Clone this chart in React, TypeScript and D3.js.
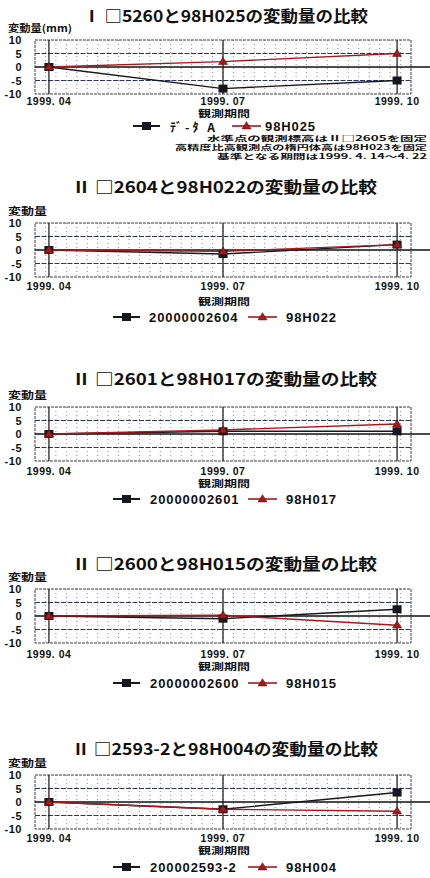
import React from "react";
import * as d3 from "d3";

// ---------- data ----------
const CATEGORIES = ["1999. 04", "1999. 07", "1999. 10"];
const Y_TICKS = [10, 5, 0, -5, -10];
const TITLES = [
  "Ⅰ □5260と98H025の変動量の比較",
  "Ⅱ □2604と98H022の変動量の比較",
  "Ⅱ □2601と98H017の変動量の比較",
  "Ⅱ □2600と98H015の変動量の比較",
  "Ⅱ □2593-2と98H004の変動量の比較",
];
const Y_LABELS = ["変動量(mm)", "変動量", "変動量", "変動量", "変動量"];
const X_LABEL = "観測期間";
const SERIES_A_NAMES = ["ﾃﾞ-ﾀ A", "20000002604", "20000002601", "20000002600", "200002593-2"];
const SERIES_B_NAMES = ["98H025", "98H022", "98H017", "98H015", "98H004"];
const SERIES_A_VALUES = [
  [0, -8, -5],
  [0, -1.5, 2],
  [0, 1, 1],
  [0, -1, 2.5],
  [0, -2.7, 3.5],
];
const SERIES_B_VALUES = [
  [0, 2, 5],
  [0, -0.5, 2],
  [0, 1.5, 3.7],
  [0, 0.3, -3.4],
  [0, -2.7, -3.4],
];
const NOTE_LINES = [
  "水準点の観測標高はⅡ□2605を固定",
  "高精度比高観測点の楕円体高は98H023を固定",
  "基準となる期間は1999. 4. 14～4. 22",
];

// ---------- layout ----------
const W = 430;
const H = 878;
const PANEL_TOP = [40, 223, 407, 589, 775];
const TITLE_Y = [15, 186, 378, 563, 748];
const TITLE_X = [[83, 368], [72, 377], [72, 377], [72, 377], [72, 378]];
const LEGEND_Y_OFF = [86, 94, 92, 94, 92];
const XLAB_Y_OFF = [61, 63, 64, 65, 63];
const XTITLE_Y_OFF = [72.5, 78, 76, 77, 75];
const LEGEND_POS = [
  [133, 170, 232, 265],
  [113, 149, 248, 286],
  [113, 150, 248, 286],
  [113, 150, 248, 286],
  [113, 150, 248, 286],
];
const PLOT_H = 54;
const BOX_L = 35;
const BOX_R = 411;
const NOTE_Y = [138, 147, 156];
const NOTE_X = [[207, 427], [175, 427], [217, 427]];

const BLACK = "#17171f";
const RED = "#a3191c";
const SANS = "'Liberation Sans', Arial, sans-serif";
const CJK = "'Noto Sans CJK JP', 'Noto Sans', sans-serif";

function Square({ x, y, s = 9 }: { x: number; y: number; s?: number }) {
  return <rect x={x - s / 2} y={y - (s - 1) / 2} width={s} height={s - 1} fill={BLACK} />;
}
function Tri({ x, y, s = 9 }: { x: number; y: number; s?: number }) {
  const h = s * 0.8;
  return (
    <path
      d={`M${x},${y - h * 0.6} L${x + s / 2},${y + h * 0.4} L${x - s / 2},${y + h * 0.4} Z`}
      fill={RED}
      stroke="#6a0f10"
      strokeWidth={0.6}
    />
  );
}

function Panel({ i }: { i: number }) {
  const top = PANEL_TOP[i];
  const x = d3.scalePoint<string>().domain(CATEGORIES).range([BOX_L, BOX_R]).padding(0.08);
  const y = d3.scaleLinear().domain([-10, 10]).range([top + PLOT_H, top]);
  const line = d3
    .line<number>()
    .x((_, k) => x(CATEGORIES[k]) as number)
    .y((v) => y(v));
  const minor = d3.range(1, 36).map((k) => BOX_L + (k * (BOX_R - BOX_L)) / 36);
  const a = SERIES_A_VALUES[i];
  const b = SERIES_B_VALUES[i];
  const lp = LEGEND_POS[i];
  const ly = top + LEGEND_Y_OFF[i];
  return (
    <g>
      <text
        x={TITLE_X[i][0]}
        y={TITLE_Y[i]}
        textLength={TITLE_X[i][1] - TITLE_X[i][0]}
        lengthAdjust="spacingAndGlyphs"
        dominantBaseline="central"
        fontFamily={CJK}
        fontWeight={700}
        fontSize={16}
        fill="#111"
      >
        {TITLES[i]}
      </text>
      <text
        x={8}
        y={top - 13}
        dominantBaseline="central"
        fontFamily={CJK}
        fontWeight={700}
        fontSize={10}
        textLength={i === 0 ? 64 : 39}
        lengthAdjust="spacingAndGlyphs"
        fill="#111"
      >
        {Y_LABELS[i]}
      </text>
      {minor.map((mx, k) => (
        <line
          key={k}
          x1={mx}
          x2={mx}
          y1={top}
          y2={top + PLOT_H}
          stroke="#777"
          strokeWidth={0.8}
          strokeDasharray="1,3"
        />
      ))}
      <rect
        x={BOX_L}
        y={top}
        width={BOX_R - BOX_L}
        height={PLOT_H}
        fill="none"
        stroke="#3a3a4a"
        strokeWidth={1}
        strokeDasharray="3,1"
      />
      {[5, -5].map((v) => (
        <line
          key={v}
          x1={BOX_L}
          x2={BOX_R}
          y1={y(v)}
          y2={y(v)}
          stroke="#2b3566"
          strokeWidth={1}
          strokeDasharray="5,1.5"
        />
      ))}
      {CATEGORIES.map((c) => (
        <line
          key={c}
          x1={x(c)}
          x2={x(c)}
          y1={top}
          y2={top + PLOT_H}
          stroke="#111"
          strokeWidth={1.2}
        />
      ))}
      <line x1={BOX_L} x2={W} y1={y(0)} y2={y(0)} stroke="#111" strokeWidth={1.6} />
      {Y_TICKS.map((t) => (
        <text
          key={t}
          x={22}
          y={y(t)}
          textAnchor="end"
          dominantBaseline="central"
          fontFamily={SANS}
          fontWeight={700}
          fontSize={11}
          letterSpacing={0.5}
          fill="#111"
        >
          {t}
        </text>
      ))}
      <path d={line(a) || ""} fill="none" stroke={BLACK} strokeWidth={1.4} />
      <path d={line(b) || ""} fill="none" stroke={RED} strokeWidth={1.4} />
      {a.map((v, k) => (
        <Square key={"a" + k} x={x(CATEGORIES[k]) as number} y={y(v)} />
      ))}
      {b.map((v, k) => (
        <Tri key={"b" + k} x={x(CATEGORIES[k]) as number} y={y(v)} />
      ))}
      {CATEGORIES.map((c) => (
        <text
          key={c}
          x={x(c)}
          y={top + XLAB_Y_OFF[i]}
          textAnchor="middle"
          dominantBaseline="central"
          fontFamily={SANS}
          fontWeight={700}
          fontSize={10.5}
          letterSpacing={0.5}
          fill="#111"
        >
          {c}
        </text>
      ))}
      <text
        x={198}
        y={top + XTITLE_Y_OFF[i]}
        textLength={52}
        lengthAdjust="spacingAndGlyphs"
        dominantBaseline="central"
        fontFamily={CJK}
        fontWeight={700}
        fontSize={9.5}
        fill="#111"
      >
        {X_LABEL}
      </text>
      <line x1={lp[0]} x2={lp[0] + 27} y1={ly} y2={ly} stroke={BLACK} strokeWidth={2} />
      <Square x={lp[0] + 13.5} y={ly} />
      <text
        x={lp[1]}
        y={ly}
        dominantBaseline="central"
        fontFamily={i === 0 ? CJK : SANS}
        fontWeight={700}
        fontSize={i === 0 ? 12 : 13}
        letterSpacing={i === 0 ? 3 : 0.9}
        fill="#111"
      >
        {SERIES_A_NAMES[i]}
      </text>
      <line x1={lp[2]} x2={lp[2] + 29} y1={ly} y2={ly} stroke={RED} strokeWidth={1.6} />
      <Tri x={lp[2] + 14.5} y={ly} />
      <text
        x={lp[3]}
        y={ly}
        dominantBaseline="central"
        fontFamily={SANS}
        fontWeight={700}
        fontSize={13}
        letterSpacing={0.9}
        fill="#111"
      >
        {SERIES_B_NAMES[i]}
      </text>
    </g>
  );
}

export default function App() {
  return (
    <svg
      width={W}
      height={H}
      viewBox={`0 0 ${W} ${H}`}
      style={{ position: "absolute", left: 0, top: 0, display: "block", background: "#fff" }}
    >
      <rect x={0} y={0} width={W} height={H} fill="#fff" />
      {TITLES.map((_, i) => (
        <Panel key={i} i={i} />
      ))}
      {NOTE_LINES.map((t, k) => (
        <text
          key={k}
          x={NOTE_X[k][0]}
          y={NOTE_Y[k]}
          textLength={NOTE_X[k][1] - NOTE_X[k][0]}
          lengthAdjust="spacingAndGlyphs"
          dominantBaseline="central"
          fontFamily={CJK}
          fontWeight={700}
          fontSize={7}
          fill="#111"
        >
          {t}
        </text>
      ))}
    </svg>
  );
}
